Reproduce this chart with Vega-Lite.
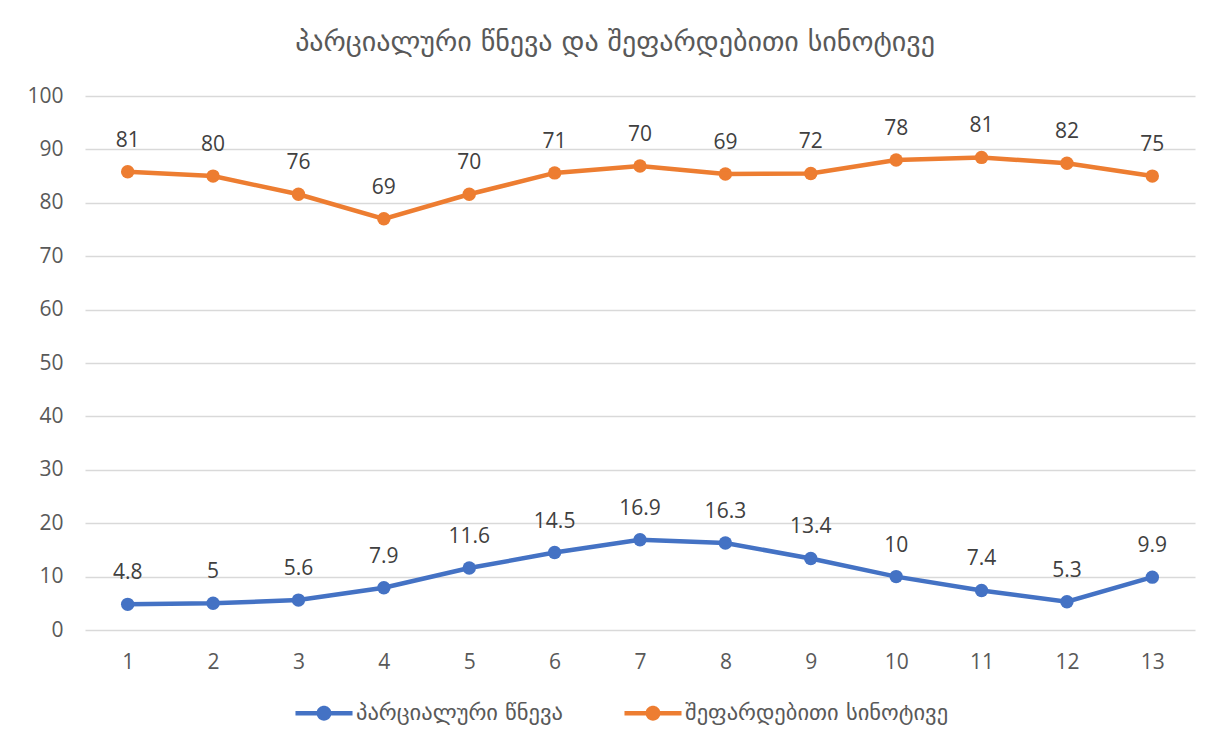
{
  "$schema": "https://vega.github.io/schema/vega-lite/v6.json",
  "width": 1110,
  "height": 534,
  "autosize": {"type": "none"},
  "padding": {"left": 85, "top": 96, "right": 26, "bottom": 119},
  "background": "white",
  "title": {
    "text": "პარციალური წნევა და შეფარდებითი სინოტივე",
    "anchor": "middle",
    "frame": "group",
    "dx": -25,
    "offset": 28,
    "font": "DejaVu Sans",
    "fontSize": 28,
    "fontWeight": "normal",
    "color": "#595959"
  },
  "data": {
    "values": [
      {"x": 1, "series": "პარციალური წნევა", "value": 4.8, "label": "4.8"},
      {"x": 2, "series": "პარციალური წნევა", "value": 5, "label": "5"},
      {"x": 3, "series": "პარციალური წნევა", "value": 5.6, "label": "5.6"},
      {"x": 4, "series": "პარციალური წნევა", "value": 7.9, "label": "7.9"},
      {"x": 5, "series": "პარციალური წნევა", "value": 11.6, "label": "11.6"},
      {"x": 6, "series": "პარციალური წნევა", "value": 14.5, "label": "14.5"},
      {"x": 7, "series": "პარციალური წნევა", "value": 16.9, "label": "16.9"},
      {"x": 8, "series": "პარციალური წნევა", "value": 16.3, "label": "16.3"},
      {"x": 9, "series": "პარციალური წნევა", "value": 13.4, "label": "13.4"},
      {"x": 10, "series": "პარციალური წნევა", "value": 10, "label": "10"},
      {"x": 11, "series": "პარციალური წნევა", "value": 7.4, "label": "7.4"},
      {"x": 12, "series": "პარციალური წნევა", "value": 5.3, "label": "5.3"},
      {"x": 13, "series": "პარციალური წნევა", "value": 9.9, "label": "9.9"},
      {"x": 1, "series": "შეფარდებითი სინოტივე", "value": 85.8, "label": "81"},
      {"x": 2, "series": "შეფარდებითი სინოტივე", "value": 85.0, "label": "80"},
      {"x": 3, "series": "შეფარდებითი სინოტივე", "value": 81.6, "label": "76"},
      {"x": 4, "series": "შეფარდებითი სინოტივე", "value": 77.0, "label": "69"},
      {"x": 5, "series": "შეფარდებითი სინოტივე", "value": 81.6, "label": "70"},
      {"x": 6, "series": "შეფარდებითი სინოტივე", "value": 85.6, "label": "71"},
      {"x": 7, "series": "შეფარდებითი სინოტივე", "value": 86.9, "label": "70"},
      {"x": 8, "series": "შეფარდებითი სინოტივე", "value": 85.4, "label": "69"},
      {"x": 9, "series": "შეფარდებითი სინოტივე", "value": 85.5, "label": "72"},
      {"x": 10, "series": "შეფარდებითი სინოტივე", "value": 88.0, "label": "78"},
      {"x": 11, "series": "შეფარდებითი სინოტივე", "value": 88.5, "label": "81"},
      {"x": 12, "series": "შეფარდებითი სინოტივე", "value": 87.4, "label": "82"},
      {"x": 13, "series": "შეფარდებითი სინოტივე", "value": 85.0, "label": "75"}
    ]
  },
  "encoding": {
    "x": {
      "field": "x",
      "type": "ordinal",
      "scale": {"type": "point", "padding": 0.5},
      "axis": {
        "title": null,
        "labelAngle": 0,
        "labelFont": "Open Sans",
        "labelFontSize": 21,
        "labelColor": "#595959",
        "labelPadding": 21,
        "domain": false,
        "ticks": false,
        "grid": false
      }
    },
    "y": {
      "field": "value",
      "type": "quantitative",
      "scale": {"domain": [0, 100], "nice": false},
      "axis": {
        "title": null,
        "values": [0, 10, 20, 30, 40, 50, 60, 70, 80, 90, 100],
        "labelFont": "Open Sans",
        "labelFontSize": 21,
        "labelColor": "#595959",
        "labelPadding": 22,
        "domain": false,
        "ticks": false,
        "grid": true,
        "gridColor": "#d9d9d9",
        "gridWidth": 1.5
      }
    },
    "color": {
      "field": "series",
      "type": "nominal",
      "scale": {
        "domain": ["პარციალური წნევა", "შეფარდებითი სინოტივე"],
        "range": ["#4472C4", "#ED7D31"]
      },
      "legend": {
        "title": null,
        "orient": "none",
        "direction": "horizontal",
        "legendX": 227,
        "legendY": 605,
        "symbolType": "M-2.41,-0.19H-0.6A0.63,0.63 0 0 1 0.6,-0.19H2.41V0.19H0.6A0.63,0.63 0 0 1 -0.6,0.19H-2.41Z",
        "symbolSize": 560,
        "symbolStrokeWidth": 0,
        "labelFont": "DejaVu Sans",
        "labelFontSize": 22.5,
        "labelColor": "#595959",
        "labelLimit": 500,
        "labelOffset": 20,
        "columnPadding": 61
      }
    }
  },
  "layer": [
    {
      "mark": {"type": "point", "filled": true, "size": 180, "opacity": 1}
    },
    {
      "mark": {"type": "line", "strokeWidth": 4.5}
    },
    {
      "mark": {"type": "text", "dy": -31, "font": "Open Sans", "fontSize": 21, "color": "#404040"},
      "encoding": {
        "text": {"field": "label"},
        "color": {"value": "#404040"}
      }
    }
  ],
  "config": {"view": {"stroke": null}}
}
